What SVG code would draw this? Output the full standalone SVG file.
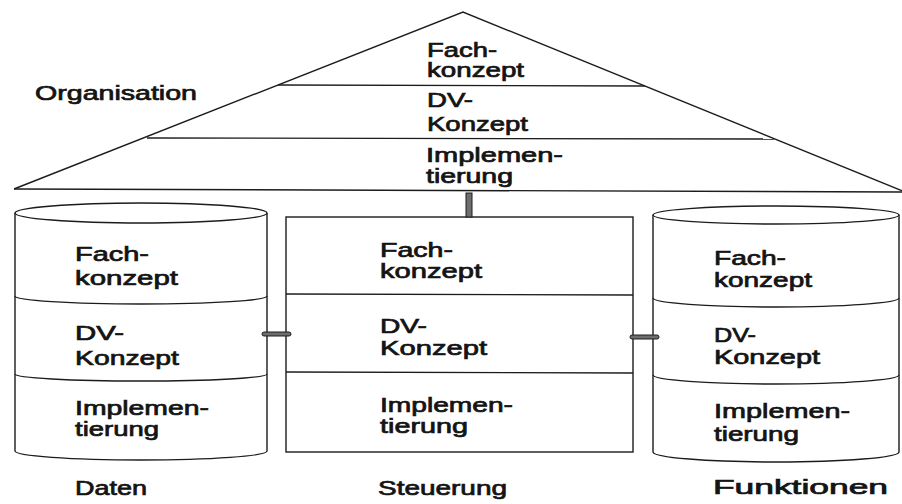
<svg xmlns="http://www.w3.org/2000/svg" width="902" height="504" viewBox="0 0 902 504">
  <style>
    .ln { fill: none; stroke: #1c1c1c; stroke-width: 1.4; }
    .bg { fill: #ffffff; stroke: #1c1c1c; stroke-width: 1.4; }
    .t { font-family: "Liberation Sans", Arial, Helvetica, sans-serif; font-size: 20px; fill: #141414; stroke: #141414; stroke-width: 0.7; }
    .bar { fill: #6e6e6e; stroke: #1c1c1c; stroke-width: 1; }
  </style>

  <rect width="902" height="504" fill="#ffffff"/>

  <!-- Organisation: roof with three layers -->
  <g id="organisation">
    <path class="ln" d="M14 189 L463 12 L910 194"/>
    <path class="ln" d="M14 189 L902 192"/>
    <path class="ln" d="M278 85 L645 86"/>
    <path class="ln" d="M147 138 L774 139"/>
    <text class="t" x="35" y="100" textLength="162" lengthAdjust="spacingAndGlyphs">Organisation</text>
    <text class="t" x="427" y="57" textLength="70" lengthAdjust="spacingAndGlyphs">Fach-</text>
    <text class="t" x="427" y="77" textLength="97" lengthAdjust="spacingAndGlyphs">konzept</text>
    <text class="t" x="427" y="107" textLength="46" lengthAdjust="spacingAndGlyphs">DV-</text>
    <text class="t" x="427" y="131" textLength="101" lengthAdjust="spacingAndGlyphs">Konzept</text>
    <text class="t" x="426" y="162" textLength="137" lengthAdjust="spacingAndGlyphs">Implemen-</text>
    <text class="t" x="426" y="183" textLength="87" lengthAdjust="spacingAndGlyphs">tierung</text>
  </g>

  <!-- Daten: cylinder -->
  <g id="daten">
    <path class="bg" d="M15 213 L15 451 A126 9 0 0 0 267 451 L267 213"/>
    <ellipse class="bg" cx="141" cy="213" rx="126" ry="10"/>
    <path class="ln" d="M15 296 A126 8 0 0 0 267 296"/>
    <path class="ln" d="M15 374 A126 7 0 0 0 267 374"/>
    <text class="t" x="75" y="261" textLength="74" lengthAdjust="spacingAndGlyphs">Fach-</text>
    <text class="t" x="75" y="285" textLength="103" lengthAdjust="spacingAndGlyphs">konzept</text>
    <text class="t" x="75" y="340" textLength="49" lengthAdjust="spacingAndGlyphs">DV-</text>
    <text class="t" x="75" y="365" textLength="104" lengthAdjust="spacingAndGlyphs">Konzept</text>
    <text class="t" x="75" y="415" textLength="134" lengthAdjust="spacingAndGlyphs">Implemen-</text>
    <text class="t" x="75" y="436" textLength="84" lengthAdjust="spacingAndGlyphs">tierung</text>
    <text class="t" x="75" y="495" textLength="72" lengthAdjust="spacingAndGlyphs">Daten</text>
  </g>

  <!-- Steuerung: box -->
  <g id="steuerung">
    <rect class="bg" x="286" y="217" width="347" height="235"/>
    <path class="ln" d="M286 294 L633 295"/>
    <path class="ln" d="M286 372 L633 373"/>
    <text class="t" x="380" y="257" textLength="73" lengthAdjust="spacingAndGlyphs">Fach-</text>
    <text class="t" x="380" y="278" textLength="102" lengthAdjust="spacingAndGlyphs">konzept</text>
    <text class="t" x="380" y="333" textLength="47" lengthAdjust="spacingAndGlyphs">DV-</text>
    <text class="t" x="380" y="355" textLength="107" lengthAdjust="spacingAndGlyphs">Konzept</text>
    <text class="t" x="380" y="412" textLength="133" lengthAdjust="spacingAndGlyphs">Implemen-</text>
    <text class="t" x="380" y="433" textLength="88" lengthAdjust="spacingAndGlyphs">tierung</text>
    <text class="t" x="378" y="495" textLength="129" lengthAdjust="spacingAndGlyphs">Steuerung</text>
  </g>

  <!-- Funktionen: cylinder -->
  <g id="funktionen">
    <path class="bg" d="M653 215 L653 452 A123 10 0 0 0 899 452 L899 215"/>
    <ellipse class="bg" cx="776" cy="215" rx="123" ry="9"/>
    <path class="ln" d="M653 298 A123 9 0 0 0 899 298"/>
    <path class="ln" d="M653 375 A123 9 0 0 0 899 375"/>
    <text class="t" x="714" y="265" textLength="72" lengthAdjust="spacingAndGlyphs">Fach-</text>
    <text class="t" x="714" y="287" textLength="98" lengthAdjust="spacingAndGlyphs">konzept</text>
    <text class="t" x="714" y="342" textLength="42" lengthAdjust="spacingAndGlyphs">DV-</text>
    <text class="t" x="714" y="364" textLength="106" lengthAdjust="spacingAndGlyphs">Konzept</text>
    <text class="t" x="714" y="418" textLength="136" lengthAdjust="spacingAndGlyphs">Implemen-</text>
    <text class="t" x="714" y="441" textLength="85" lengthAdjust="spacingAndGlyphs">tierung</text>
    <text class="t" x="713" y="494" textLength="175" lengthAdjust="spacingAndGlyphs">Funktionen</text>
  </g>

  <!-- links between the parts -->
  <g id="connectors">
    <rect class="bar" x="466" y="193" width="6" height="24"/>
    <rect class="bar" x="262" y="332" width="29" height="4" rx="2"/>
    <rect class="bar" x="630" y="335" width="29" height="4" rx="2"/>
  </g>
</svg>
